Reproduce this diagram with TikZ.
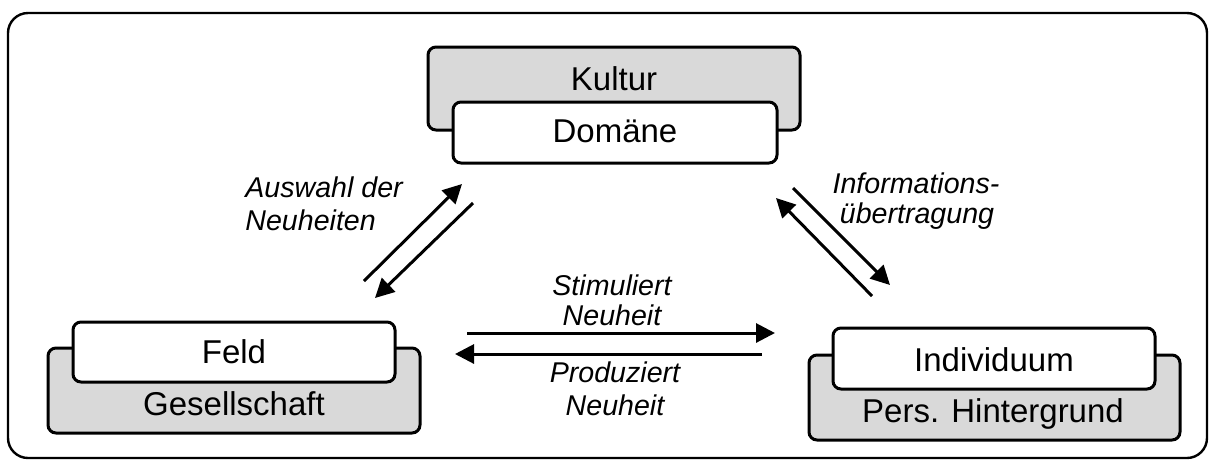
\documentclass[tikz,border=0pt]{standalone}
\usepackage{fontspec}
\setmainfont{Liberation Sans}
\usetikzlibrary{arrows.meta}
\definecolor{boxgrey}{HTML}{D9D9D9}
\tikzset{
  frame/.style={draw=black, line width=1.2pt, rounded corners=10pt},
  backbox/.style={draw=black, fill=boxgrey, line width=1.5pt, rounded corners=4pt, inner sep=0pt},
  frontbox/.style={draw=black, fill=white, line width=1.5pt, rounded corners=4pt, inner sep=0pt},
  boxtext/.style={font=\fontsize{16.5pt}{19pt}\selectfont, anchor=base, inner sep=0pt},
  flowtext/.style={font=\fontsize{14.3pt}{16pt}\selectfont\itshape, inner sep=0pt},
  flow/.style={line width=1.5pt, -{Triangle[length=9.5pt,width=9.5pt]}}
}
\begin{document}
\begin{tikzpicture}[x=0.5pt,y=-0.5pt]
\useasboundingbox (0,0) rectangle (1212,463);
\node[frame, minimum width=599.5pt, minimum height=222.5pt, inner sep=0pt] (frame) at (607.5,235.5) {};

% Kultur / Domaene (top)
\node[backbox, minimum width=186pt, minimum height=41.5pt] (kultur) at (614,88.5) {};
\node[frontbox, minimum width=162pt, minimum height=30.5pt] (domaene) at (615,132.5) {};
\node[boxtext] (kulturtxt) at (614,90) {Kultur};
\node[boxtext] (domaenetxt) at (615,142) {Domäne};

% Feld / Gesellschaft (left)
\node[backbox, minimum width=186pt, minimum height=42.5pt] (gesellschaft) at (234,390.5) {};
\node[frontbox, minimum width=161pt, minimum height=30pt] (feld) at (234,352) {};
\node[boxtext] (feldtxt) at (234,363) {Feld};
\node[boxtext] (gesellschafttxt) at (234,415) {Gesellschaft};

% Individuum / Pers. Hintergrund (right)
\node[backbox, minimum width=185.5pt, minimum height=42.5pt] (hintergrund) at (994.5,397.5) {};
\node[frontbox, minimum width=161pt, minimum height=30.5pt] (individuum) at (994,358.5) {};
\node[boxtext] (individuumtxt) at (994,371) {Individuum};
\node[boxtext] (hintergrundtxt) at (993,422) {Pers. Hintergrund};

% arrow end points
\coordinate (fd1) at (364,281);  \coordinate (fd2) at (462,184);
\coordinate (df1) at (473,203);  \coordinate (df2) at (375,298);
\coordinate (id1) at (872,296);  \coordinate (id2) at (776,198);
\coordinate (di1) at (793,188);  \coordinate (di2) at (890,285);
\coordinate (fi1) at (467,333);  \coordinate (fi2) at (775,333);
\coordinate (if1) at (762,354);  \coordinate (if2) at (455,354);

\draw[flow] (fd1) -- (fd2);
\draw[flow] (df1) -- (df2);
\draw[flow] (id1) -- (id2);
\draw[flow] (di1) -- (di2);
\draw[flow] (fi1) -- (fi2);
\draw[flow] (if1) -- (if2);

% arrow labels
\node[flowtext, anchor=base west] (ausw1) at (245,197) {Auswahl der};
\node[flowtext, anchor=base west] (ausw2) at (245,230) {Neuheiten};
\node[flowtext, anchor=base] (info1) at (916,193) {Informations-};
\node[flowtext, anchor=base] (info2) at (917,223) {übertragung};
\node[flowtext, anchor=base] (stim1) at (612,295) {Stimuliert};
\node[flowtext, anchor=base] (stim2) at (612,325) {Neuheit};
\node[flowtext, anchor=base] (prod1) at (615,382) {Produziert};
\node[flowtext, anchor=base] (prod2) at (615,415) {Neuheit};
\end{tikzpicture}
\end{document}
